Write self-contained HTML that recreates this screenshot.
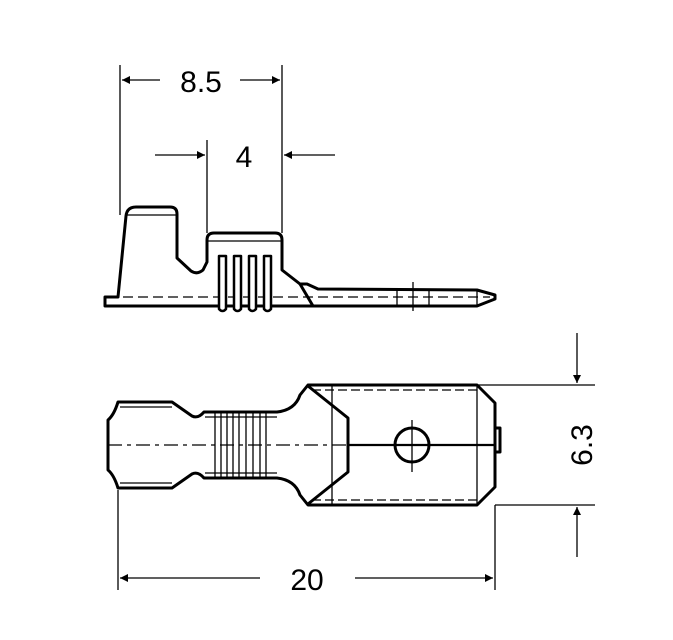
<!DOCTYPE html>
<html><head><style>body{margin:0;background:#fff}svg{display:block}</style></head><body>
<svg width="673" height="640" viewBox="0 0 673 640" xmlns="http://www.w3.org/2000/svg" fill="none" stroke="#000" stroke-linejoin="round">
<defs><marker id="a" viewBox="0 0 10 10" refX="10" refY="5" markerWidth="14" markerHeight="8" orient="auto-start-reverse" markerUnits="userSpaceOnUse"><path d="M0,0L10,5L0,10z" fill="#000" stroke="none"/></marker></defs>
<g stroke-width="1.3">
<line x1="120" y1="65" x2="120" y2="215"/><line x1="282" y1="65" x2="282" y2="233"/>
<line x1="122" y1="80" x2="160" y2="80" marker-start="url(#a)"/><line x1="240" y1="80" x2="280" y2="80" marker-end="url(#a)"/>
<line x1="207" y1="140" x2="207" y2="233"/>
<line x1="155" y1="155" x2="205" y2="155" marker-end="url(#a)"/><line x1="335" y1="155" x2="284" y2="155" marker-end="url(#a)"/>
<line x1="477" y1="385" x2="595" y2="385"/><line x1="495" y1="505" x2="595" y2="505"/>
<line x1="577" y1="333" x2="577" y2="383" marker-end="url(#a)"/><line x1="577" y1="557" x2="577" y2="507" marker-end="url(#a)"/>
<line x1="118" y1="490" x2="118" y2="590"/><line x1="495" y1="505" x2="495" y2="590"/>
<line x1="120" y1="578" x2="260" y2="578" marker-start="url(#a)"/><line x1="355" y1="578" x2="493" y2="578" marker-end="url(#a)"/>
</g>
<g fill="#000" stroke="none" font-family="Liberation Sans, sans-serif" font-size="30" text-anchor="middle">
<text x="201" y="92">8.5</text><text x="244" y="167">4</text><text x="307" y="590">20</text>
<text transform="translate(592,445) rotate(-90)">6.3</text>
</g>
<!-- top view -->
<g stroke-width="3">
<path d="M105,297 L118,297 L126,216 Q127,207 136,207 L170,207 Q177,207 177,214 L177,258 L191,271 Q197,275 203,270 L207,262 L207,240 Q207,233 214,233 L275,233 Q282,233 282,240 L282,270 L300,284 L307,284 L318,289 L477,290 L495,295 L495,299 L477,306 L105,306 Z"/>
<path d="M300,284 L313,306"/>
</g>
<g stroke-width="1.3">
<line x1="127" y1="215" x2="177" y2="215"/><line x1="207" y1="241" x2="282" y2="241"/>
<line x1="397" y1="290" x2="397" y2="306"/><line x1="429" y1="290" x2="429" y2="306"/><line x1="477" y1="290" x2="477" y2="306"/>
<line x1="413" y1="282" x2="413" y2="311"/>
<line x1="108" y1="297" x2="490" y2="297" stroke-dasharray="10,5"/>
</g>
<g stroke-width="2.5" fill="#fff">
<path d="M219,309 L219,256 L226,256 L226,309 Q222.5,313 219,309Z"/>
<path d="M234,309 L234,256 L241,256 L241,309 Q237.5,313 234,309Z"/>
<path d="M249,309 L249,256 L256,256 L256,309 Q252.5,313 249,309Z"/>
<path d="M264,309 L264,256 L271,256 L271,309 Q267.5,313 264,309Z"/>
</g>
<!-- bottom view -->
<g stroke-width="3">
<path d="M118,402 L172,402 L192,416 Q198,419 204,412 L277,412 Q295,410 300,395 L308,385 L477,385 L495,403 L495,487 L477,505 L308,505 L300,495 Q295,480 277,478 L204,478 Q198,471 192,474 L172,488 L118,488 Q114,475 108,470 L108,420 Q114,415 118,402 Z"/>
<path d="M308,386 L348,418 L348,472 L308,504"/>
<circle cx="412" cy="445" r="17"/>
<rect x="495" y="428" width="5" height="24"/>
</g>
<g stroke-width="1.3">
<line x1="120" y1="407" x2="172" y2="407"/><line x1="120" y1="483" x2="172" y2="483"/>
<line x1="205" y1="417" x2="277" y2="417"/><line x1="205" y1="473" x2="277" y2="473"/>
<line x1="332" y1="385" x2="332" y2="505"/><line x1="477" y1="385" x2="477" y2="505"/>
<line x1="312" y1="390" x2="477" y2="390" stroke-dasharray="9,4"/><line x1="312" y1="500" x2="477" y2="500" stroke-dasharray="9,4"/>
<path d="M215,412V478M221,412V478M227,412V478M233,412V478M239,412V478M246,412V478M253,412V478M260,412V478M266,412V478"/>
<line x1="108" y1="445" x2="348" y2="445" stroke-dasharray="14,5,4,5"/>
<line x1="412" y1="420" x2="412" y2="472"/>
</g>
<line x1="348" y1="445" x2="495" y2="445" stroke-width="2.2"/>
</svg>
</body></html>
